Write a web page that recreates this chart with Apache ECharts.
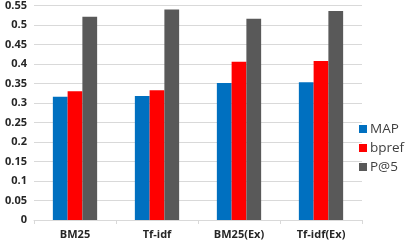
<!DOCTYPE html>
<html><head><meta charset="utf-8">
<script src="https://cdn.jsdelivr.net/npm/echarts@6/dist/echarts.min.js"></script>
<style>html,body{margin:0;padding:0;background:#fff}#c{width:408px;height:245px}</style>
</head><body><div id="c"></div>
<script>
const categories = ['BM25', 'Tf-idf', 'BM25(Ex)', 'Tf-idf(Ex)'];
const mapValues = [0.316, 0.318, 0.351, 0.353];
const bprefValues = [0.330, 0.333, 0.406, 0.408];
const p5Values = [0.521, 0.540, 0.516, 0.536];
const seriesNames = ['MAP', 'bpref', 'P@5'];
const yTicks = [0, 0.05, 0.1, 0.15, 0.2, 0.25, 0.3, 0.35, 0.4, 0.45, 0.5, 0.55];

const chart = echarts.init(document.getElementById('c'), null, {renderer: 'canvas'});
const font = 'Open Sans, Liberation Sans, sans-serif';
const mk = (name, data, color) => ({
  name, type: 'bar', data, barGap: '0%', barCategoryGap: '46%',
  itemStyle: {color}
});
chart.setOption({
  animation: false,
  grid: {left: 34, right: 46, top: 5, bottom: 25},
  legend: {
    orient: 'vertical', left: 359, top: 122, itemWidth: 8, itemHeight: 8, itemGap: 5,
    icon: 'rect', padding: 0,
    textStyle: {fontFamily: font, fontSize: 13.5, color: '#404040', padding: [0, 0, 0, -2]},
    data: seriesNames
  },
  xAxis: {
    type: 'category', data: categories,
    axisLine: {lineStyle: {color: '#d9d9d9'}},
    axisTick: {show: true, length: 4, lineStyle: {color: '#d9d9d9'}},
    axisLabel: {fontFamily: font, fontSize: 11, fontWeight: 'bold', color: '#262626', margin: 9}
  },
  yAxis: {
    type: 'value', min: 0, max: 0.55, interval: 0.05,
    axisLine: {show: false}, axisTick: {show: false},
    splitLine: {lineStyle: {color: '#d9d9d9'}},
    axisLabel: {fontFamily: font, fontSize: 11, fontWeight: 'bold', color: '#262626', margin: 7,
      formatter: v => { const t = yTicks.find(x => Math.abs(x - v) < 1e-9); return String(t !== undefined ? t : v); }}
  },
  series: [
    mk(seriesNames[0], mapValues, '#0070C0'),
    mk(seriesNames[1], bprefValues, '#FF0000'),
    mk(seriesNames[2], p5Values, '#595959')
  ]
});
</script></body></html>
